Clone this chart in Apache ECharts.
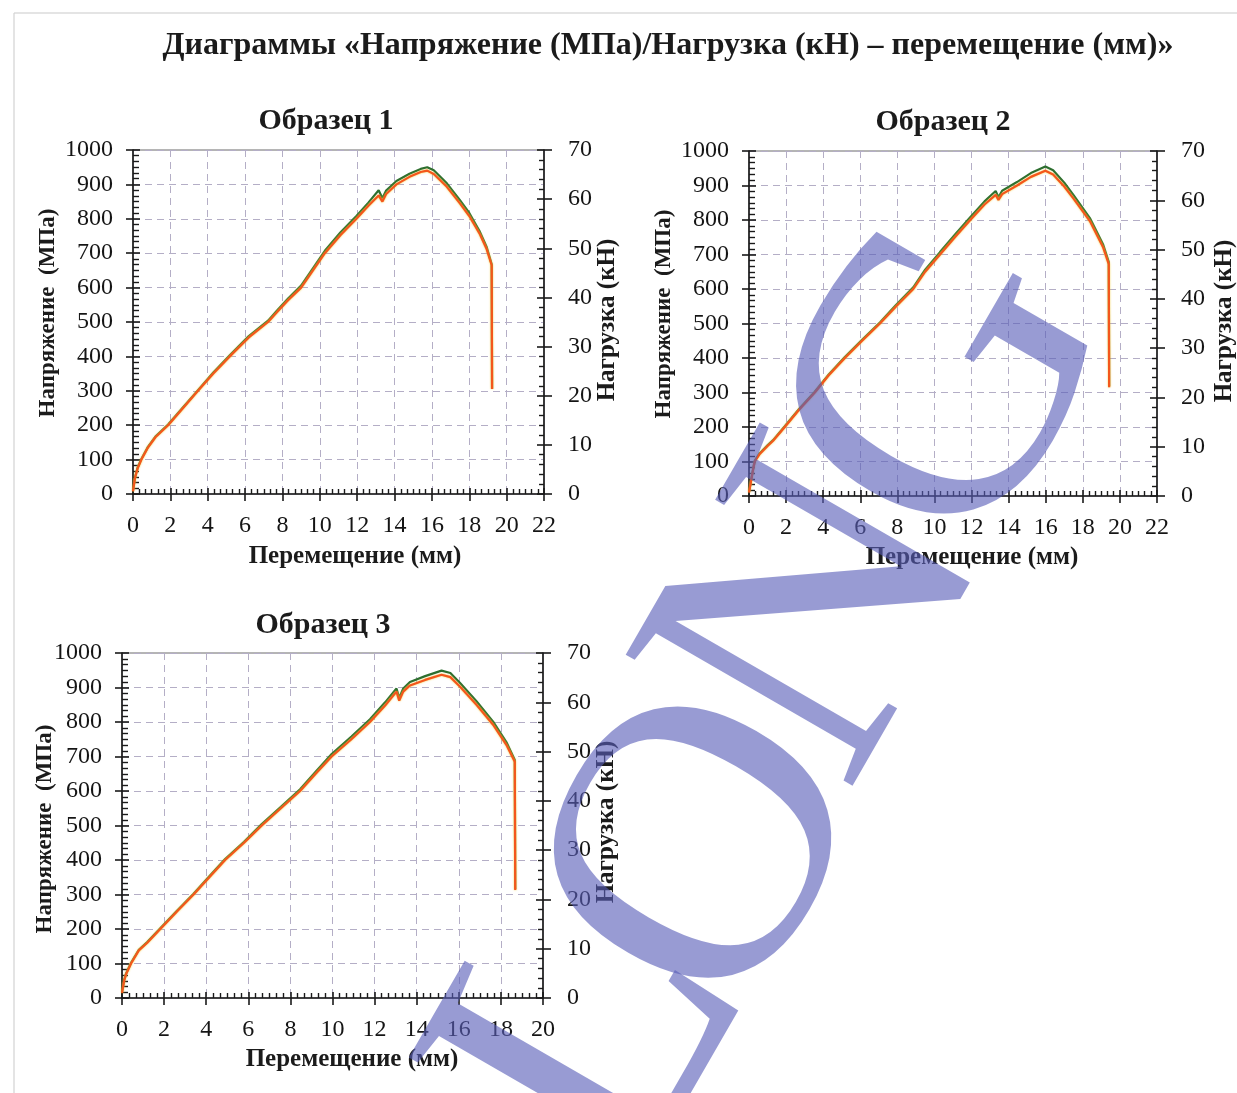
<!DOCTYPE html>
<html>
<head>
<meta charset="utf-8">
<script src="https://cdn.jsdelivr.net/npm/echarts@6/dist/echarts.min.js"></script>
<style>
  html, body { margin: 0; padding: 0; background: #ffffff; }
  #chart { width: 1237px; height: 1093px; }
</style>
</head>
<body>
<div id="chart"></div>
<script>
// ---------- Data ----------
const mainTitle = 'Диаграммы «Напряжение (МПа)/Нагрузка (кН) – перемещение (мм)»';
const sampleTitles = ['Образец 1', 'Образец 2', 'Образец 3'];
const xName = 'Перемещение (мм)';
const yLeftName = 'Напряжение  (МПа)';
const yRightName = 'Нагрузка (кН)';
const watermarkLetters = ['L', 'O', 'N', 'G'];

// Sample 1: displacement (mm), stress (MPa, green), load (kN, orange)
const disp1 = [0, 0.1, 0.25, 0.45, 0.8, 1.2, 1.88, 2.6, 3.48, 4.3, 5.18, 6.2, 7.23, 7.7, 8.3, 9.0, 10.27, 11.1, 11.96, 12.6, 13.15, 13.35, 13.55, 14.1, 14.8, 15.4, 15.75, 16.1, 16.8, 17.5, 18.0, 18.57, 18.93, 19.2, 19.22];
const stress1 = [10, 47, 77, 102, 137, 167, 202, 247, 302, 353, 403, 459, 504, 533, 568, 606, 707, 760, 808, 847, 883, 860, 882, 910, 931, 945, 950, 941, 903, 854, 817, 762, 718, 668, 306];
const load1 = [0.56, 3.15, 5.25, 7.0, 9.45, 11.55, 14.0, 17.15, 21.0, 24.5, 28.0, 31.85, 35.0, 36.96, 39.41, 42.0, 49.0, 52.64, 56.0, 58.66, 60.76, 59.5, 61.04, 63.0, 64.54, 65.52, 65.8, 65.1, 62.51, 59.15, 56.56, 52.85, 49.84, 46.55, 21.35];

// Sample 2
const disp2 = [0, 0.1, 0.22, 0.31, 0.58, 1.0, 1.3, 1.93, 2.7, 3.55, 4.3, 5.17, 6.1, 7.06, 7.9, 8.86, 9.5, 10.3, 11.1, 11.93, 12.7, 13.3, 13.45, 13.65, 14.45, 15.2, 15.98, 16.4, 17.0, 17.5, 18.4, 19.1, 19.4, 19.42];
const stress2 = [12, 42, 78, 102, 124, 147, 162, 202, 252, 302, 352, 403, 453, 503, 552, 605, 656, 707, 757, 808, 854, 884, 866, 885, 910, 936, 955, 944, 908, 872, 804, 728, 678, 318];
const load2 = [0.7, 2.8, 5.32, 7.0, 8.54, 10.15, 11.2, 14.0, 17.5, 21.0, 24.5, 28.0, 31.5, 35.0, 38.36, 42.0, 45.5, 49.0, 52.5, 56.0, 59.15, 61.11, 60.06, 61.25, 63.0, 64.75, 66.01, 65.24, 62.79, 60.34, 55.65, 50.4, 47.04, 22.05];

// Sample 3
const disp3 = [0, 0.1, 0.2, 0.43, 0.8, 1.2, 1.82, 2.6, 3.4, 4.15, 4.9, 5.8, 6.64, 7.55, 8.46, 9.2, 9.96, 10.9, 11.78, 12.5, 13.04, 13.17, 13.36, 13.68, 14.4, 15.18, 15.6, 16.05, 16.84, 17.63, 18.26, 18.66, 18.68];
const stress3 = [17, 52, 72, 102, 140, 162, 202, 252, 302, 353, 403, 453, 504, 554, 605, 656, 707, 758, 808, 857, 897, 870, 897, 916, 933, 949, 942, 914, 860, 801, 742, 690, 316];
const load3 = [1.05, 3.5, 4.9, 7.0, 9.66, 11.2, 14.0, 17.5, 21.0, 24.5, 28.0, 31.5, 35.0, 38.5, 42.0, 45.5, 49.0, 52.5, 56.0, 59.36, 62.16, 60.34, 62.16, 63.42, 64.54, 65.59, 65.1, 63.21, 59.5, 55.44, 51.38, 47.95, 21.91];

// Axis ranges / ticks
const xMaxes = [22, 22, 20];
const xInterval = 2;
const stressMax = 1000, stressInterval = 100;
const loadMax = 70, loadInterval = 10;

// ---------- Layout ----------
const SERIF = "'Liberation Serif', 'Times New Roman', serif";
const grids = [
  { left: 133, top: 150, width: 411, height: 344 },
  { left: 749, top: 151, width: 408, height: 345 },
  { left: 122, top: 653, width: 421, height: 345 }
];
const samples = [
  { disp: disp1, stress: stress1, load: load1 },
  { disp: disp2, stress: stress2, load: load2 },
  { disp: disp3, stress: stress3, load: load3 }
];

const AX = '#1a1a1a';
const GRIDC = '#b4aec6';
const plain = v => String(v);

const xAxes = [], yAxes = [], series = [], gridOpts = [];
grids.forEach((g, i) => {
  gridOpts.push(Object.assign({ show: true, borderColor: '#6a6a6a', borderWidth: 1, backgroundColor: 'transparent' }, g));
  xAxes.push({
    gridIndex: i, type: 'value', position: 'bottom', min: 0, max: xMaxes[i], interval: xInterval,
    axisLine: { onZero: false, lineStyle: { color: AX, width: 1.6 } },
    axisTick: { inside: true, length: 6, lineStyle: { color: AX, width: 1.6 } },
    minorTick: { show: true, splitNumber: 6, length: 5, lineStyle: { color: AX, width: 1.4 } },
    axisLabel: { margin: 20, fontFamily: SERIF, fontSize: 24, color: '#151515', formatter: plain },
    splitLine: { show: true, lineStyle: { color: GRIDC, type: [7, 5], width: 1 } }
  });
  xAxes.push({
    gridIndex: i, type: 'value', position: 'bottom', min: 0, max: xMaxes[i], interval: xInterval,
    axisLine: { show: false, onZero: false },
    axisTick: { inside: false, length: 7, lineStyle: { color: AX, width: 1.6 } },
    axisLabel: { show: false }, splitLine: { show: false }
  });
  yAxes.push({
    gridIndex: i, type: 'value', position: 'left', min: 0, max: stressMax, interval: stressInterval,
    axisLine: { show: true, onZero: false, lineStyle: { color: AX, width: 1.6 } },
    axisTick: { show: true, inside: true, length: 7, lineStyle: { color: AX, width: 1.6 } },
    minorTick: { show: true, splitNumber: 6, length: 6, lineStyle: { color: AX, width: 1.4 } },
    axisLabel: { margin: 20, fontFamily: SERIF, fontSize: 24, color: '#151515', formatter: plain },
    splitLine: { show: true, lineStyle: { color: GRIDC, type: [7, 5], width: 1 } }
  });
  yAxes.push({
    gridIndex: i, type: 'value', position: 'left', min: 0, max: stressMax, interval: stressInterval,
    axisLine: { show: false, onZero: false },
    axisTick: { show: true, inside: false, length: 7, lineStyle: { color: AX, width: 1.6 } },
    axisLabel: { show: false }, splitLine: { show: false }
  });
  yAxes.push({
    gridIndex: i, type: 'value', position: 'right', min: 0, max: loadMax, interval: loadInterval,
    axisLine: { show: true, onZero: false, lineStyle: { color: AX, width: 1.6 } },
    axisTick: { show: true, inside: true, length: 7, lineStyle: { color: AX, width: 1.6 } },
    minorTick: { show: true, splitNumber: 5, length: 5, lineStyle: { color: AX, width: 1.4 } },
    axisLabel: { margin: 24, fontFamily: SERIF, fontSize: 24, color: '#151515', formatter: plain },
    splitLine: { show: false }
  });
  yAxes.push({
    gridIndex: i, type: 'value', position: 'right', min: 0, max: loadMax, interval: loadInterval,
    axisLine: { show: false, onZero: false },
    axisTick: { show: true, inside: false, length: 8, lineStyle: { color: AX, width: 1.6 } },
    axisLabel: { show: false }, splitLine: { show: false }
  });

  const s = samples[i];
  series.push({
    type: 'line', name: 'Напряжение', xAxisIndex: 2 * i, yAxisIndex: 4 * i,
    data: s.disp.map((x, j) => [x, s.stress[j]]),
    showSymbol: false, symbol: 'none', smooth: false, z: 3,
    lineStyle: { color: '#2c6e2f', width: 2.2 }
  });
  series.push({
    type: 'line', name: 'Нагрузка', xAxisIndex: 2 * i, yAxisIndex: 4 * i + 2,
    data: s.disp.map((x, j) => [x, s.load[j]]),
    showSymbol: false, symbol: 'none', smooth: false, z: 4,
    lineStyle: { color: '#f4561c', width: 2.2, shadowColor: 'rgba(240,200,40,0.9)', shadowBlur: 2 }
  });
});

// ---------- Texts (titles and axis names) ----------
function txt(text, x, y, size, opts) {
  opts = opts || {};
  return {
    type: 'text', x: x, y: y, rotation: opts.rotation || 0, z: 10,
    style: {
      text: text, fill: '#1b1b1b', fontFamily: SERIF, fontWeight: opts.weight || 'bold',
      fontSize: size, align: 'center', verticalAlign: 'middle'
    }
  };
}
const R = Math.PI / 2;
const graphics = [
  { type: 'line', shape: { x1: 14, y1: 13, x2: 1237, y2: 13 }, style: { stroke: '#c9c9c9', lineWidth: 1.2 }, z: 1 },
  { type: 'line', shape: { x1: 14, y1: 13, x2: 14, y2: 1093 }, style: { stroke: '#d2d2d2', lineWidth: 1.2 }, z: 1 },
  txt(mainTitle, 668, 46, 32),
  txt(sampleTitles[0], 326, 121, 30),
  txt(sampleTitles[1], 943, 122, 30),
  txt(sampleTitles[2], 323, 625, 30),
  txt(xName, 355, 557, 25),
  txt(xName, 972, 558, 25),
  txt(xName, 352, 1060, 25),
  txt(yLeftName, 48, 313, 23, { rotation: R }),
  txt(yLeftName, 664, 314, 23, { rotation: R }),
  txt(yLeftName, 45, 829, 23, { rotation: R }),
  txt(yRightName, 608, 320, 25, { rotation: R }),
  txt(yRightName, 1225, 321, 25, { rotation: R }),
  txt(yRightName, 607, 822, 25, { rotation: R })
];
// watermark letters
const wmPos = [[600, 1040], [715, 855], [828, 618], [955, 392]];
watermarkLetters.forEach((ch, k) => {
  graphics.push({
    type: 'text', x: wmPos[k][0], y: wmPos[k][1], rotation: 60 * Math.PI / 180, z: 50,
    style: {
      text: ch, fill: 'rgba(88,94,184,0.62)', fontFamily: SERIF,
      fontSize: 400, align: 'center', verticalAlign: 'middle'
    }
  });
});

const chart = echarts.init(document.getElementById('chart'), null, { renderer: 'canvas' });
chart.setOption({
  backgroundColor: '#ffffff',
  animation: false,
  grid: gridOpts,
  xAxis: xAxes,
  yAxis: yAxes,
  series: series,
  graphic: graphics
});
</script>
</body>
</html>
